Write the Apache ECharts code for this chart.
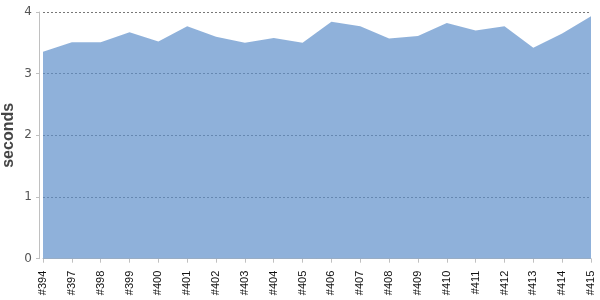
<!DOCTYPE html>
<html>
<head>
<meta charset="utf-8">
<script src="https://cdn.jsdelivr.net/npm/echarts@6/dist/echarts.min.js"></script>
<style>
html,body{margin:0;padding:0;background:#fff;}
#chart{width:600px;height:300px;}
</style>
</head>
<body>
<div id="chart"></div>
<script>
var builds = ['#394','#397','#398','#399','#400','#401','#402','#403','#404','#405','#406','#407','#408','#409','#410','#411','#412','#413','#414','#415'];
var seconds = [3.355,3.51,3.51,3.67,3.52,3.77,3.60,3.50,3.58,3.50,3.84,3.77,3.57,3.61,3.82,3.70,3.77,3.42,3.65,3.93];
var yTicks = {min:0, max:4, interval:1};
var yTitle = 'seconds';

var chart = echarts.init(document.getElementById('chart'), null, {renderer:'canvas'});
chart.setOption({
  animation:false,
  backgroundColor:'#fff',
  grid:{left:43, right:9, top:12, bottom:41.3, containLabel:false, outerBoundsMode:'none'},
  xAxis:{
    type:'category',
    data:builds,
    boundaryGap:false,
    offset:4,
    axisLine:{show:true, lineStyle:{color:'#c0c0c0', width:1}},
    axisTick:{show:true, length:4, alignWithLabel:true, lineStyle:{color:'#c0c0c0'}},
    axisLabel:{rotate:90, interval:0, margin:8, fontSize:11, color:'#111', fontFamily:'Liberation Sans', hideOverlap:false},
    splitLine:{show:false}
  },
  yAxis:{
    type:'value',
    min:yTicks.min, max:yTicks.max, interval:yTicks.interval,
    offset:4,
    name:yTitle,
    nameLocation:'middle',
    nameGap:22,
    nameMoveOverlap:false,
    nameTextStyle:{fontSize:16, fontWeight:'bold', color:'#444', fontFamily:'Liberation Sans'},
    axisLine:{show:true, lineStyle:{color:'#c0c0c0', width:1}},
    axisTick:{show:true, length:3, lineStyle:{color:'#c0c0c0'}},
    axisLabel:{margin:7, fontSize:12, color:'#555', fontFamily:'DejaVu Sans'},
    splitLine:{show:true, lineStyle:{color:'#777', type:[2,2], width:1}}
  },
  series:[{
    type:'line',
    data:seconds,
    showSymbol:false,
    symbol:'none',
    lineStyle:{width:0},
    areaStyle:{color:'rgba(95,144,202,0.7)', opacity:1}
  }]
});
</script>
</body>
</html>
